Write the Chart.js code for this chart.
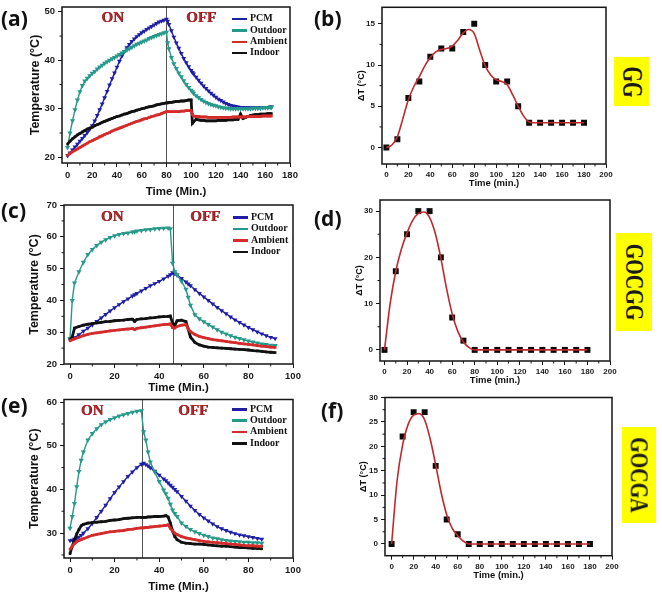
<!DOCTYPE html>
<html>
<head>
<meta charset="utf-8">
<script src="https://cdn.jsdelivr.net/npm/chart.js@4"></script>
<style>
  html, body { margin: 0; padding: 0; background: #fff; }
  #fig { position: relative; width: 662px; height: 598px; overflow: hidden; background: #fff; }
  #fig canvas { position: absolute; }
  .lab { position: absolute; font: bold 21px "Open Sans", "Liberation Sans", sans-serif; color: #111; line-height: 1; }
  .onoff { position: absolute; font: bold 15px "Liberation Serif", serif; color: #b3262a;
           text-shadow: 0.6px 0.6px 0 #5b1212; transform: translate(-50%, -50%); white-space: nowrap; }
  .leg { position: absolute; font: bold 10px "Liberation Serif", serif; color: #111; }
  .leg div { height: 11.4px; line-height: 11.4px; white-space: nowrap; }
  .leg span { display: inline-block; width: 15px; height: 2.5px; vertical-align: middle; margin-right: 3px; }
  .tag { position: absolute; background: #ffff00; }
  .tag b { position: absolute; left: 50%; top: 50%; font: bold 20px "Liberation Serif", serif; color: #1a1a1a; white-space: nowrap; }
</style>
</head>
<body>
<div id="fig">
  <canvas id="ca"></canvas><canvas id="cb"></canvas>
  <canvas id="cc"></canvas><canvas id="cd"></canvas>
  <canvas id="ce"></canvas><canvas id="cf"></canvas>
</div>
<script>
/* ---------- data: temperature runs (a) GG, (c) GOCGG, (e) GOCGA ---------- */
const seriesNames  = ['PCM', 'Outdoor', 'Ambient', 'Indoor'];
const seriesColors = ['#1e1ea6', '#26998a', '#d42b2b', '#111111'];

const aTime = [0,2,4,6,8,10,12,14,16,18,20,22,24,26,28,30,32,34,36,38,40,42,44,46,48,50,52,54,56,58,60,62,64,66,68,70,72,74,76,78,80,81,82,84,86,88,90,92,94,96,98,100,101,102,104,106,108,110,112,114,116,118,120,122,124,126,128,130,132,134,136,138,140,142,144,146,148,150,152,154,156,158,160,162,164,165];
const aPCM = [20.3,20.9,21.5,22.1,22.7,23.3,23.9,24.5,25.1,25.8, 26.5,27.5,28.6,29.8,31.0,32.3,33.6,34.9,36.2,37.4,
  38.6,39.8,40.9,41.8,42.6,43.3,43.9,44.4,44.9,45.3, 45.7,46.0,46.4,46.7,47.0,47.3,47.6,47.9,48.1,48.3, 48.5, 48.1,
  47.4,46.1,44.8,43.6,42.5,41.4,40.4,39.5,38.7,37.9, 37.5,
  37.2,36.5,35.9,35.3,34.7,34.2,33.7,33.2,32.8,32.4, 32.0,31.7,31.4,31.1,30.9,30.7,30.6,30.5,30.4,30.3,
  30.3,30.2,30.2,30.2,30.2,30.2,30.2,30.2,30.3,30.3, 30.3,30.4, 30.4];
const aOutdoor = [22.0,25.0,27.5,29.8,31.8,33.5,34.8,35.7,36.3,36.8, 37.3,37.7,38.2,38.6,39.0,39.4,39.7,40.0,40.3,40.6,
  40.9,41.2,41.5,41.8,42.1,42.4,42.7,43.0,43.3,43.5, 43.8,44.0,44.2,44.5,44.7,44.9,45.1,45.3,45.5,45.7, 45.8, 43.6,
  42.4,40.6,39.3,38.3,37.4,36.6,35.8,35.0,34.4,33.8, 33.5,
  33.2,32.7,32.3,31.9,31.6,31.3,31.1,30.9,30.7,30.6, 30.4,30.3,30.2,30.1,30.1,30.0,30.0,30.0,30.0,30.0,
  30.0,30.0,30.0,30.0,30.1,30.1,30.1,30.1,30.2,30.2, 30.2,30.3, 30.3];
const aAmbient = [20.4,20.8,21.1,21.4,21.7,22.0,22.3,22.6,22.9,23.2, 23.4,23.7,23.9,24.2,24.4,24.7,24.9,25.1,25.4,25.6,
  25.8,26.0,26.2,26.4,26.6,26.8,27.0,27.2,27.4,27.5, 27.7,27.9,28.0,28.2,28.4,28.5,28.7,28.8,29.0,29.2, 29.4, 29.4,
  29.4,29.4,29.4,29.4,29.4,29.5,29.5,29.6,29.6,29.6, 28.8,
  28.5,28.4,28.4,28.3,28.3,28.3,28.2,28.2,28.2,28.2, 28.2,28.2,28.2,28.2,28.2,28.2,28.3,28.3,28.3,28.3,
  28.3,28.3,28.4,28.4,28.4,28.4,28.4,28.4,28.5,28.5, 28.5,28.5, 28.5];
const aIndoor = [22.7,23.3,23.8,24.2,24.6,24.9,25.2,25.5,25.8,26.0, 26.2,26.5,26.7,26.9,27.2,27.4,27.6,27.8,28.0,28.2,
  28.4,28.5,28.7,28.9,29.0,29.2,29.4,29.5,29.7,29.8, 30.0,30.1,30.3,30.4,30.5,30.6,30.8,30.9,31.0,31.1, 31.2, 31.2,
  31.3,31.3,31.4,31.5,31.5,31.6,31.6,31.7,31.8,31.8, 27.0,
  27.3,27.8,27.7,27.6,27.6,27.5,27.5,27.5,27.5,27.5, 27.6,27.6,27.6,27.6,27.7,27.7,27.7,27.8,27.8,28.9,
  28.0,28.2,28.4,28.6,28.7,28.8,28.8,28.9,28.9,28.9, 29.0,29.0, 29.0];

const cTime = [0,1,2,4,6,8,10,12,14,16,18,20,22,24,26,28,29,30,32,34,36,38,40,42,44,45,46,47,48,50,52,53,54,56,58,60,62,64,66,68,70,72,74,76,78,80,82,84,86,88,90,92];
const cPCM = [27.8,28.0,28.3,29.2,30.3,31.3,32.3,33.4,34.5,35.6,36.7,37.7,38.7,39.6,40.5,41.4,41.8,42.2,43.0,43.8,44.6,45.3,46.0,46.8,47.6,48.1,48.7,48.4,48.0,46.9,45.8,45.2,44.6,43.4,42.2,41.1,40.0,38.9,37.8,36.8,35.8,34.8,33.9,33.1,32.3,31.5,30.8,30.1,29.5,28.9,28.4,28.0];
const cOutdoor = [28.0,40.0,45.5,49.0,52.0,54.4,56.0,57.3,58.3,59.1,59.8,60.3,60.7,61.0,61.2,61.5,61.6,61.8,62.0,62.2,62.3,62.5,62.6,62.7,62.8,62.5,51.7,49.0,48.0,46.0,43.5,41.0,38.5,35.5,34.2,33.3,32.4,31.6,30.8,30.0,29.4,28.9,28.4,28.0,27.6,27.2,26.9,26.6,26.3,26.1,25.9,25.8];
const cAmbient = [27.3,27.6,27.9,28.4,28.9,29.3,29.6,29.8,30.0,30.2,30.4,30.6,30.7,30.9,31.0,31.2,30.8,31.2,31.4,31.6,31.8,32.0,32.2,32.4,32.5,32.6,31.4,31.3,31.8,32.2,32.4,31.0,30.2,29.3,28.7,28.3,28.0,27.7,27.5,27.3,27.1,26.9,26.7,26.5,26.3,26.2,26.0,25.8,25.6,25.5,25.3,25.2];
const cIndoor = [27.6,28.5,31.3,31.8,32.2,32.5,32.7,32.9,33.1,33.3,33.4,33.6,33.7,33.8,34.0,34.1,33.4,34.0,34.2,34.3,34.5,34.6,34.8,34.9,35.0,35.1,32.8,32.2,33.6,33.8,33.3,31.0,28.5,26.8,26.0,25.6,25.3,25.2,25.1,25.0,24.9,24.8,24.7,24.6,24.5,24.4,24.2,24.1,24.0,23.8,23.7,23.6];

const eTime = [0,1,2,3,4,5,6,8,10,12,14,16,18,20,22,24,26,28,30,32,33,34,35,36,38,40,42,43,44,45,46,47,48,50,52,54,56,58,60,62,64,66,68,70,72,74,76,78,80,82,84,86];
const ePCM = [28.3,28.4,28.6,28.8,29.1,29.5,30.0,31.0,32.2,33.6,35.0,36.4,37.9,39.3,40.6,41.8,43.0,44.0,45.0,45.8,46.0,45.7,45.4,45.0,44.2,43.3,42.4,42.0,41.5,41.0,40.5,40.0,39.5,38.4,37.3,36.2,35.2,34.3,33.5,32.8,32.1,31.5,31.0,30.6,30.2,29.9,29.6,29.4,29.2,29.0,28.8,28.6];
const eOutdoor = [31.1,33.8,36.8,40.6,44.1,46.7,48.6,51.3,52.8,53.9,54.8,55.5,56.0,56.4,56.8,57.1,57.4,57.7,57.9,58.0,53.2,51.3,48.6,46.3,44.0,41.8,39.9,39.0,38.0,36.6,35.3,34.5,33.8,32.3,31.5,30.8,30.3,29.9,29.5,29.2,28.9,28.7,28.5,28.3,28.2,28.1,28.0,27.9,27.9,27.8,27.8,27.7];
const eAmbient = [26.3,27.0,27.6,28.0,28.3,28.5,28.7,29.1,29.5,29.7,29.9,30.1,30.3,30.4,30.5,30.6,30.8,30.9,31.1,31.2,31.2,31.3,31.3,31.4,31.5,31.6,31.7,31.8,31.9,31.1,30.5,30.0,29.7,29.2,28.9,28.7,28.5,28.3,28.1,28.0,27.9,27.8,27.7,27.6,27.5,27.4,27.3,27.2,27.1,27.1,27.0,27.0];
const eIndoor = [25.3,27.0,28.5,29.8,30.8,31.7,32.0,32.3,32.4,32.5,32.6,32.7,32.9,33.0,33.1,33.3,33.4,33.5,33.6,33.6,33.6,33.6,33.7,33.7,33.8,33.8,33.9,34.0,33.7,32.3,30.5,29.2,28.5,27.9,27.7,27.6,27.5,27.5,27.4,27.3,27.2,27.1,27.0,27.0,26.9,26.8,26.7,26.7,26.6,26.5,26.5,26.4];

const switchA = 80, switchC = 46, switchE = 32.5;   // heater on -> off (min)

/* ---------- data: temperature difference (b) GG, (d) GOCGG, (f) GOCGA ---------- */
const dtTime = [0,10,20,30,40,50,60,70,80,90,100,110,120,130,140,150,160,170,180];
const bDelta = [0,1,6,8,11,12,12,14,15,10,8,8,5,3,3,3,3,3,3];
const dDelta = [0,17,25,30,30,20,7,2,0,0,0,0,0,0,0,0,0,0,0];
const fDelta = [0,22,27,27,16,5,2,0,0,0,0,0,0,0,0,0,0,0,0];
const curveTime = [0,5,10,15,20,25,30,35,40,45,50,55,60,65,70,75,80,85,90,95,100,105,110,115,120,125,130,135,140,145,150,155,160,165,170,175,180];
const bCurve = [0,0.3,1.3,3.5,5.8,7.4,8.6,9.9,10.9,11.6,11.9,12.0,12.3,13.0,13.9,14.3,13.8,11.8,9.9,8.8,8.2,8.0,7.6,6.4,5.0,3.8,3.1,3.0,3,3,3,3,3,3,3,3,3];
const dCurve = [0,10,17,21.8,25.3,28.0,29.5,29.8,28.6,25.2,19.8,13.3,7.8,4.0,1.7,0.5,0,0,0,0,0,0,0,0,0,0,0,0,0,0,0,0,0,0,0,0,0];
const fCurve = [0,13,20.3,24.5,26.4,26.7,25.4,21.5,16.2,10.5,6.0,3.2,1.7,0.6,0,0,0,0,0,0,0,0,0,0,0,0,0,0,0,0,0,0,0,0,0,0,0];

/* ---------- tick labels ---------- */
const aXTicks = [0,20,40,60,80,100,120,140,160,180], aYTicks = [20,30,40,50];
const cXTicks = [0,20,40,60,80,100], cYTicks = [20,30,40,50,60,70];
const eXTicks = [0,20,40,60,80,100], eYTicks = [30,40,50,60];
const dtXTicks = [0,20,40,60,80,100,120,140,160,180,200];
const bYTicks = [0,5,10,15], dYTicks = [0,10,20,30], fYTicks = [0,5,10,15,20,25,30];
const panelTags = ['GG', 'GOCGG', 'GOCGA'];

/* ---------- helpers ---------- */
const SANS = '"Liberation Sans", Arial, sans-serif';
const xy = (ts, vs) => ts.map((t, i) => ({ x: t, y: vs[i] }));
function minors(ticks, min, max) {
  const step = ticks[1] - ticks[0], out = [];
  for (let v = ticks[0] - step / 2; v <= max; v += step) if (v >= min && !ticks.includes(v)) out.push(v);
  return out;
}

const framePlugin = {
  id: 'frame',
  beforeDatasetsDraw(chart, args, o) {
    if (o.switchAt == null) return;
    const { ctx, chartArea: a, scales: { x } } = chart;
    const px = Math.round(x.getPixelForValue(o.switchAt)) + 0.5;
    ctx.save(); ctx.strokeStyle = '#555'; ctx.lineWidth = 1;
    ctx.beginPath(); ctx.moveTo(px, a.top); ctx.lineTo(px, a.bottom); ctx.stroke(); ctx.restore();
  },
  afterDatasetsDraw(chart, args, o) {
    const { ctx, chartArea: a, scales: { x, y } } = chart;
    ctx.save();
    ctx.strokeStyle = '#151515'; ctx.lineWidth = 1.5;
    ctx.strokeRect(a.left, a.top, a.right - a.left, a.bottom - a.top);
    ctx.lineWidth = 1; ctx.beginPath();
    (o.xMinor || []).forEach(v => { const p = x.getPixelForValue(v); ctx.moveTo(p, a.bottom); ctx.lineTo(p, a.bottom + 2.5); });
    (o.yMinor || []).forEach(v => { const p = y.getPixelForValue(v); ctx.moveTo(a.left, p); ctx.lineTo(a.left - 2.5, p); });
    ctx.stroke(); ctx.restore();
  }
};

// g: canvas box (L,T,W,H) and wanted plot area (l,r,t,b) plus title centres, in page px
function makePanel(id, g, datasets, xs, ys, extra) {
  const cv = document.getElementById(id);
  cv.width = g.W; cv.height = g.H;
  Object.assign(cv.style, { left: g.L + 'px', top: g.T + 'px', width: g.W + 'px', height: g.H + 'px' });
  const tickFont = { family: SANS, weight: 'bold', size: xs.tickSize };
  const axisCommon = {
    type: 'linear',
    grid: { drawOnChartArea: false, drawTicks: true, tickLength: 4, color: '#151515', lineWidth: 1 },
    border: { display: false },
  };
  return new Chart(cv, {
    type: 'scatter',
    data: { datasets },
    options: {
      responsive: false, animation: false, events: [],
      layout: { padding: { left: 0, bottom: 0, top: g.t - g.T, right: g.L + g.W - g.r } },
      plugins: {
        legend: { display: false }, tooltip: { enabled: false },
        frame: Object.assign({ xMinor: minors(xs.ticks, xs.min, xs.max), yMinor: minors(ys.ticks, ys.min, ys.max) }, extra)
      },
      scales: {
        x: Object.assign({}, axisCommon, {
          min: xs.min, max: xs.max,
          afterFit: s => { s.height = g.T + g.H - g.b; },
          afterBuildTicks: s => { s.ticks = xs.ticks.map(v => ({ value: v })); },
          ticks: { font: tickFont, color: '#1a1a1a', padding: xs.pad, maxRotation: 0, autoSkip: false },
          title: { display: true, text: xs.title, color: '#111',
                   font: { family: SANS, weight: 'bold', size: xs.titleSize, lineHeight: 1.2 },
                   padding: { top: 0, bottom: g.T + g.H - g.xTitle - xs.titleSize * 0.6 } }
        }),
        y: Object.assign({}, axisCommon, {
          min: ys.min, max: ys.max,
          afterFit: s => { s.width = g.l - g.L; },
          afterBuildTicks: s => { s.ticks = ys.ticks.map(v => ({ value: v })); },
          ticks: { font: tickFont, color: '#1a1a1a', padding: 3, autoSkip: false },
          title: { display: true, text: ys.title, color: '#111',
                   font: { family: SANS, weight: 'bold', size: ys.titleSize, lineHeight: 1.2 },
                   padding: { top: g.yTitle - g.L - ys.titleSize * 0.6, bottom: 0 } }
        })
      }
    },
    plugins: [framePlugin]
  });
}

function tempSets(time, pcm, outdoor, ambient, indoor) {
  const [cP, cO, cA, cI] = seriesColors;
  return [
    { label: 'Ambient', data: xy(time, ambient), showLine: true, borderColor: cA, borderWidth: 2.8,
      pointStyle: 'rect', pointRadius: 1.8, pointBackgroundColor: cA, pointBorderWidth: 0 },
    { label: 'Indoor', data: xy(time, indoor), showLine: true, borderColor: cI, borderWidth: 2.8,
      pointStyle: 'rect', pointRadius: 1.8, pointBackgroundColor: cI, pointBorderWidth: 0 },
    { label: 'Outdoor', data: xy(time, outdoor), showLine: true, borderColor: cO, borderWidth: 1.4,
      pointStyle: 'triangle', rotation: 180, pointRadius: 3, pointBackgroundColor: cO, pointBorderWidth: 0 },
    { label: 'PCM', data: xy(time, pcm), showLine: true, borderColor: cP, borderWidth: 1.4,
      pointStyle: 'triangle', rotation: 180, pointRadius: 2.8, pointBackgroundColor: cP, pointBorderWidth: 0 }
  ];
}
function deltaSets(curve, pts) {
  return [
    { label: 'fit', data: xy(curveTime, curve), showLine: true, borderColor: '#c0282d', borderWidth: 1.6,
      pointRadius: 0, cubicInterpolationMode: 'monotone' },
    { label: 'ΔT', data: xy(dtTime, pts), showLine: false, pointStyle: 'rect', pointRadius: 4.2,
      pointBackgroundColor: '#0a0a0a', pointBorderWidth: 0 }
  ];
}

const TEMP = 'Temperature (°C)', TMIN = 'Time (Min.)', DT = 'ΔT (°C)', TMIN2 = 'Time (min.)';

makePanel('ca', { L: 22, T: -8, W: 285, H: 208, l: 62, r: 290, t: 7, b: 163, yTitle: 35.5, xTitle: 192 },
  tempSets(aTime, aPCM, aOutdoor, aAmbient, aIndoor),
  { min: -4.5, max: 180, ticks: aXTicks, title: TMIN, titleSize: 11.5, tickSize: 9.5, pad: 3 },
  { min: 18.8, max: 51, ticks: aYTicks, title: TEMP, titleSize: 12.5 }, { switchAt: switchA });

makePanel('cc', { L: 22, T: 190, W: 286, H: 212, l: 64, r: 293, t: 205, b: 364, yTitle: 35, xTitle: 387.7 },
  tempSets(cTime, cPCM, cOutdoor, cAmbient, cIndoor),
  { min: -2.7, max: 100, ticks: cXTicks, title: TMIN, titleSize: 11.5, tickSize: 9.5, pad: 3 },
  { min: 20, max: 70, ticks: cYTicks, title: TEMP, titleSize: 12.5 }, { switchAt: switchC });

makePanel('ce', { L: 22, T: 385, W: 286, H: 213, l: 64, r: 293, t: 399.5, b: 558, yTitle: 35, xTitle: 586.7 },
  tempSets(eTime, ePCM, eOutdoor, eAmbient, eIndoor),
  { min: -2.7, max: 100, ticks: eXTicks, title: TMIN, titleSize: 11.5, tickSize: 9.5, pad: 3 },
  { min: 24.3, max: 60.6, ticks: eYTicks, title: TEMP, titleSize: 12.5 }, { switchAt: switchE });

makePanel('cb', { L: 348, T: -8, W: 274, H: 208, l: 382, r: 606, t: 7.3, b: 164, yTitle: 361.7, xTitle: 183 },
  deltaSets(bCurve, bDelta),
  { min: -4, max: 200, ticks: dtXTicks, title: TMIN2, titleSize: 9.5, tickSize: 8, pad: 2 },
  { min: -2, max: 17, ticks: bYTicks, title: DT, titleSize: 9 }, {});

makePanel('cd', { L: 345, T: 185, W: 280, H: 210, l: 380, r: 610, t: 200, b: 361, yTitle: 360, xTitle: 380 },
  deltaSets(dCurve, dDelta),
  { min: -4, max: 200, ticks: dtXTicks, title: TMIN2, titleSize: 9.5, tickSize: 8, pad: 2 },
  { min: -2.4, max: 32.4, ticks: dYTicks, title: DT, titleSize: 9 }, {});

makePanel('cf', { L: 345, T: 382, W: 284, H: 216, l: 385, r: 612, t: 397.5, b: 555.7, yTitle: 364, xTitle: 575 },
  deltaSets(fCurve, fDelta),
  { min: -6, max: 200, ticks: dtXTicks, title: TMIN2, titleSize: 9.5, tickSize: 8, pad: 2 },
  { min: -2.4, max: 30, ticks: fYTicks, title: DT, titleSize: 9 }, {});

/* ---------- overlays: panel letters, ON/OFF, legends, sample tags ---------- */
const fig = document.getElementById('fig');
function add(cls, html, css) {
  const d = document.createElement('div'); d.className = cls; d.innerHTML = html;
  Object.assign(d.style, css); fig.appendChild(d); return d;
}
[['(a)', 1, 8], ['(b)', 314, 8], ['(c)', 1, 200], ['(d)', 314, 208], ['(e)', 1, 395], ['(f)', 321, 400]]
  .forEach(([t, x, y]) => add('lab', t, { left: x + 'px', top: y + 'px' }));

[[112.5, 16.7, 201, 16.7], [112, 216, 205, 216], [92, 409.7, 193, 409.7]].forEach(([x1, y1, x2, y2]) => {
  add('onoff', 'ON', { left: x1 + 'px', top: y1 + 'px' });
  add('onoff', 'OFF', { left: x2 + 'px', top: y2 + 'px' });
});

const legendHTML = seriesNames.map((n, i) =>
  '<div><span style="background:' + seriesColors[i] + '"></span>' + n + '</div>').join('');
[[232, 12.3], [233, 211], [232, 402.6]].forEach(([x, y]) => add('leg', legendHTML, { left: x + 'px', top: y + 'px' }));

[[614, 57, 35, 49, 1.45], [616, 233, 36, 98, 1.28], [622, 427, 34, 96, 1.28]].forEach(([x, y, w, h, s], i) => {
  const box = add('tag', '<b>' + panelTags[i] + '</b>', { left: x + 'px', top: y + 'px', width: w + 'px', height: h + 'px' });
  box.firstChild.style.transform = 'translate(-50%,-50%) rotate(90deg) scaleY(' + s + ')';
});
</script>
</body>
</html>
